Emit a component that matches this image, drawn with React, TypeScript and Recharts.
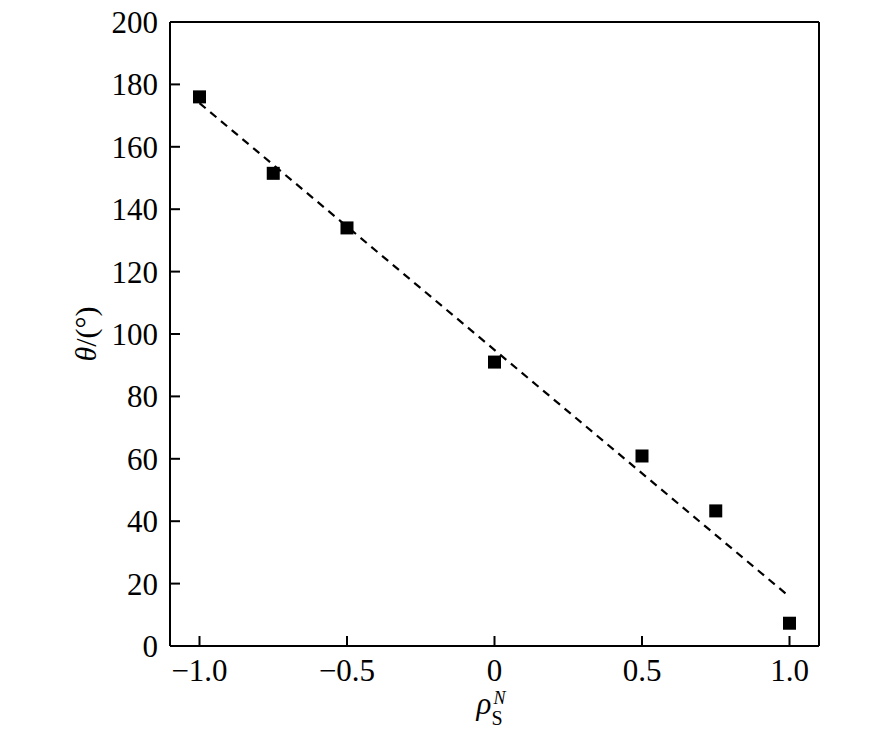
import React from "react";
import {
  ScatterChart,
  Scatter,
  XAxis,
  YAxis,
  ReferenceLine,
} from "recharts";

// ---------------------------------------------------------------------------
// Data
// ---------------------------------------------------------------------------

const rhoValues = [-1.0, -0.75, -0.5, 0, 0.5, 0.75, 1.0];
const thetaValues = [176, 151.5, 134, 91, 60.9, 43.3, 7.3];

// dashed linear fit, end points
const fitRho = [-1.0, 1.0];
const fitTheta = [174, 15.8];

const xTicks = [-1.0, -0.5, 0, 0.5, 1.0];
const xTickLabels = ["\u22121.0", "\u22120.5", "0", "0.5", "1.0"];
const yTicks = [0, 20, 40, 60, 80, 100, 120, 140, 160, 180, 200];

const xDomain = [-1.1, 1.1];
const yDomain = [0, 200];

const points = rhoValues.map((rho, i) => ({ rho, theta: thetaValues[i] }));

// ---------------------------------------------------------------------------
// Layout / styling
// ---------------------------------------------------------------------------

const W = 886;
const H = 738;
const MARGIN = { top: 22, right: 67, bottom: 32, left: 70 };
const Y_AXIS_W = 100;
const X_AXIS_H = 60;
const PLOT_LEFT = MARGIN.left + Y_AXIS_W;
const PLOT_BOTTOM = H - MARGIN.bottom - X_AXIS_H;

const FONT = "'Liberation Serif', 'Times New Roman', serif";
const TICK_LEN = 10;

function XTick({ x, payload }: any) {
  const idx = xTicks.indexOf(payload.value);
  const label = idx >= 0 ? xTickLabels[idx] : String(payload.value);
  const y = PLOT_BOTTOM;
  return (
    <g>
      <line x1={x} y1={y} x2={x} y2={y - TICK_LEN} stroke="#000" strokeWidth={2} />
      <text x={x} y={y + 35} textAnchor="middle" fontFamily={FONT} fontSize={31} fill="#000">
        {label}
      </text>
    </g>
  );
}

function YTick({ y, payload }: any) {
  const x = PLOT_LEFT;
  return (
    <g>
      <line x1={x} y1={y} x2={x + TICK_LEN} y2={y} stroke="#000" strokeWidth={2} />
      <text x={x - 12} y={y + 11} textAnchor="end" fontFamily={FONT} fontSize={31} fill="#000">
        {payload.value}
      </text>
    </g>
  );
}

function SquareMarker({ cx, cy }: any) {
  const s = 13;
  return <rect x={cx - s / 2} y={cy - s / 2} width={s} height={s} fill="#000" />;
}

function YLabel({ viewBox }: any) {
  const cx = viewBox.x + 15;
  const cy = viewBox.y + viewBox.height / 2;
  return (
    <text
      x={cx}
      y={cy}
      transform={`rotate(-90 ${cx} ${cy})`}
      textAnchor="middle"
      dominantBaseline="central"
      fontFamily={FONT}
      fontSize={30}
      fill="#000"
    >
      <tspan fontStyle="italic">θ</tspan>
      <tspan>/(°)</tspan>
    </text>
  );
}

function XLabel({ viewBox }: any) {
  const cx = viewBox.x + viewBox.width / 2;
  return (
    <g fontFamily={FONT} fill="#000">
      <text x={cx - 18} y={714} fontSize={31} fontStyle="italic">ρ</text>
      <text x={cx - 3} y={725} fontSize={20}>S</text>
      <text x={cx - 1} y={704} fontSize={18} fontStyle="italic">N</text>
    </g>
  );
}

// ---------------------------------------------------------------------------
// App
// ---------------------------------------------------------------------------

export default function App() {
  const axisLine = { stroke: "#000", strokeWidth: 2 };
  return (
    <div style={{ width: W, height: H, background: "#fff" }}>
      <style>{`body{margin:0;}`}</style>
      <ScatterChart width={W} height={H} margin={MARGIN}>
        <XAxis
          type="number"
          dataKey="rho"
          domain={xDomain}
          ticks={xTicks}
          tick={<XTick />}
          tickLine={false}
          tickSize={0}
          tickMargin={0}
          height={X_AXIS_H}
          axisLine={axisLine}
          allowDataOverflow
          label={<XLabel />}
        />
        <YAxis
          type="number"
          dataKey="theta"
          domain={yDomain}
          ticks={yTicks}
          tick={<YTick />}
          tickLine={false}
          tickSize={0}
          tickMargin={0}
          width={Y_AXIS_W}
          axisLine={axisLine}
          allowDataOverflow
          label={<YLabel />}
        />
        {/* top and right frame */}
        <ReferenceLine y={yDomain[1]} stroke="#000" strokeWidth={2} ifOverflow="visible" />
        <ReferenceLine x={xDomain[1]} stroke="#000" strokeWidth={2} ifOverflow="visible" />
        <ReferenceLine
          segment={[
            { x: fitRho[0], y: fitTheta[0] },
            { x: fitRho[1], y: fitTheta[1] },
          ]}
          stroke="#000"
          strokeWidth={2.2}
          strokeDasharray="8 6"
          ifOverflow="visible"
        />
        <Scatter data={points} shape={<SquareMarker />} isAnimationActive={false} />
      </ScatterChart>
    </div>
  );
}
